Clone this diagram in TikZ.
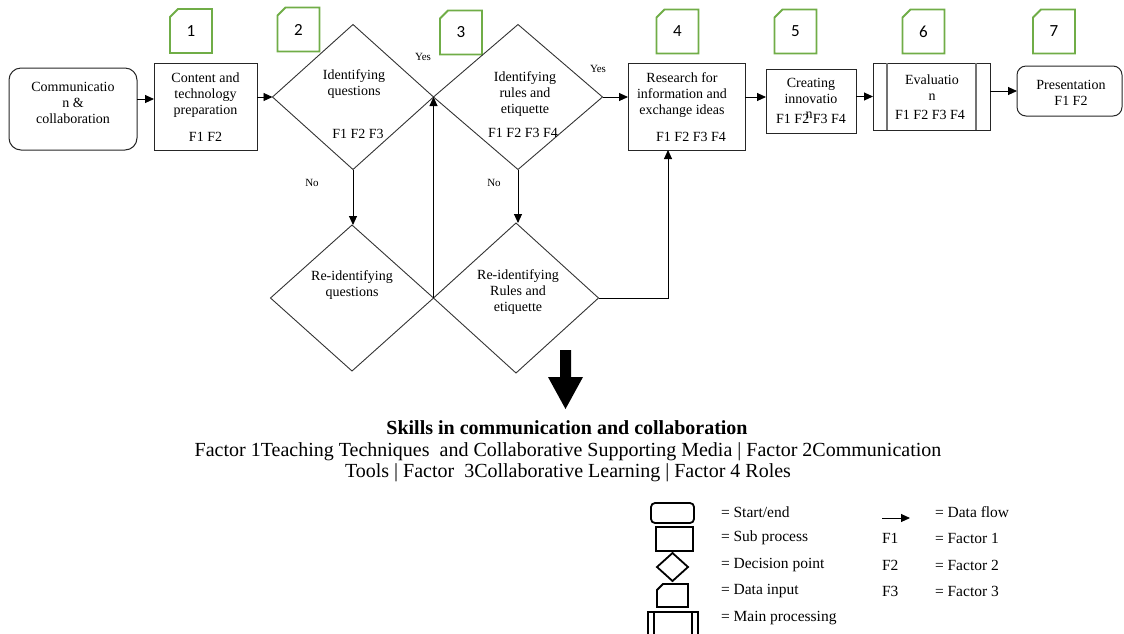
\documentclass[tikz,border=0pt]{standalone}
\usepackage{fontspec}
\setmainfont{Liberation Serif}
\newfontfamily\tagfont{Carlito}
\usetikzlibrary{arrows.meta,shapes.geometric,calc}
\definecolor{tagGreen}{RGB}{112,173,71}
\begin{document}
\begin{tikzpicture}[x=1pt,y=-1pt,
  every node/.style={inner sep=0pt,outer sep=0pt},
  shapeline/.style={draw=black!85,line width=1pt},
  decision/.style={draw=black!80,line width=0.9pt,diamond},
  innerline/.style={draw=black!55,line width=2pt},
  flow/.style={draw=black,line width=0.9pt,-{Triangle[length=9pt,width=8pt]}},
  nodetext/.style={font=\fontsize{14}{16}\selectfont,align=center},
  smalllabel/.style={font=\fontsize{11}{12}\selectfont},
  legendline/.style={draw=black,line width=1.8pt},
  legendtext/.style={font=\fontsize{15.5}{17}\selectfont,anchor=west},
  bigtext/.style={font=\fontsize{20}{21}\selectfont,align=center},
  pics/steptag/.style={code={
    \draw[tagGreen,line width=1.8pt] (-13,-22) -- (21,-22) -- (21,22) -- (-21,22) -- (-21,-14) -- cycle;
    \node[font=\tagfont\fontsize{17}{17}\selectfont] (-num) at (0,0) {#1};
  }}
]
\useasboundingbox (0,0) rectangle (1124,633);

% step tags
\pic (tag1) at (191,31) {steptag=1};
\pic (tag2) at (298.5,29.5) {steptag=2};
\pic (tag3) at (461,32.5) {steptag=3};
\pic (tag4) at (677.5,31.5) {steptag=4};
\pic (tag5) at (795.5,31.5) {steptag=5};
\pic (tag6) at (923.5,31.5) {steptag=6};
\pic (tag7) at (1054,31.5) {steptag=7};

% main shapes
\node[shapeline,rounded corners=12pt,minimum width=128pt,minimum height=82pt] (start) at (73,109) {};
\node[shapeline,minimum width=103pt,minimum height=87pt] (box1) at (205.5,106.5) {};
\node[decision,minimum width=161pt,minimum height=145pt] (d2) at (353,97) {};
\node[decision,minimum width=169pt,minimum height=145pt] (d3) at (518,97) {};
\node[decision,minimum width=163pt,minimum height=146pt] (d2b) at (352,298) {};
\node[decision,minimum width=165pt,minimum height=150pt] (d3b) at (516,298) {};
\node[shapeline,minimum width=117pt,minimum height=87pt] (box4) at (686.5,106.5) {};
\node[shapeline,minimum width=90pt,minimum height=64pt] (box5) at (811,101) {};
\node[shapeline,minimum width=117pt,minimum height=67pt] (box6) at (931.5,96.5) {};
\draw[innerline] ([xshift=14pt]box6.north west) -- ([xshift=14pt]box6.south west);
\draw[innerline] ([xshift=-14pt]box6.north east) -- ([xshift=-14pt]box6.south east);
\node[shapeline,rounded corners=9pt,minimum width=105pt,minimum height=50pt] (box7) at (1069.5,91) {};

% texts
\node[nodetext] (start-t) at (73,103) {Communicatio\\n \&\\collaboration};
\node[nodetext] (box1-t) at (205.5,95) {Content and\\technology\\preparation};
\node[nodetext] (box1-f) at (205.5,137) {F1 F2};
\node[nodetext] (d2-t) at (354,84.5) {Identifying\\questions};
\node[nodetext] (d2-f) at (358,134) {F1 F2 F3};
\node[nodetext] (d3-t) at (525,94) {Identifying\\rules and\\etiquette};
\node[nodetext] (d3-f) at (523,133) {F1 F2 F3 F4};
\node[nodetext] (d2b-t) at (352,285.5) {Re-identifying\\questions};
\node[nodetext] (d3b-t) at (518,292) {Re-identifying\\Rules and\\etiquette};
\node[nodetext] (box4-t) at (682,95) {Research for\\information and\\exchange ideas};
\node[nodetext] (box4-f) at (691,137) {F1 F2 F3 F4};
\node[nodetext] (box5-t) at (811,90.5) {Creating\\innovatio};
\node[nodetext] (box5-n) at (809,115) {n};
\node[nodetext] (box5-f) at (811,119) {F1 F2 F3 F4};
\node[nodetext] (box6-t) at (932,87.5) {Evaluatio\\n};
\node[nodetext] (box6-f) at (930,115) {F1 F2 F3 F4};
\node[nodetext] (box7-t) at (1071,93) {Presentation\\F1 F2};

\node[smalllabel] (yes1) at (423,57) {Yes};
\node[smalllabel] (yes2) at (598,69) {Yes};
\node[smalllabel] (no1) at (312,183) {No};
\node[smalllabel] (no2) at (494,183) {No};

% connectors
\draw[flow] ([yshift=10pt]start.east) -- ([yshift=7.5pt]box1.west);
\draw[flow] ([yshift=9.5pt]box1.east) -- (d2.west);
\draw[flow] (d2.south) -- (d2.south |- d2b.north);
\draw[flow] (d3.south) -- (d3.south |- d3b.north);
\draw[flow] (d2b.east) -- (d2b.east |- d2.east);
\draw[flow] (d3.east) -- (d3.east -| box4.west);
\draw[flow] (d3b.east) -| ([xshift=-18.5pt]box4.south);
\draw[flow] ([yshift=9.5pt]box4.east) coordinate (b4o) -- (b4o -| box5.west);
\draw[flow] (box6.west -| box5.east) -- (box6.west);
\draw[flow] (box7.west -| box6.east) -- (box7.west);

% big arrow
\fill[black] (560,350) -- (571,350) -- (571,377) -- (583,377) -- (565.5,409) -- (548,377) -- (560,377) -- cycle;

\node[bigtext,font=\bfseries\fontsize{20}{21}\selectfont] (skills) at (567,428) {Skills in communication and collaboration};
\node[bigtext] (factors) at (568,462.5) {Factor 1Teaching Techniques~ and Collaborative Supporting Media | Factor 2Communication\\Tools | Factor~ 3Collaborative Learning | Factor 4 Roles};

% legend
\node[legendline,rounded corners=4pt,minimum width=43pt,minimum height=20pt] (lstart) at (672.5,513) {};
\node[legendline,minimum width=37pt,minimum height=24pt] (lsub) at (674.5,539) {};
\node[legendline,diamond,minimum width=31pt,minimum height=28pt] (ldec) at (672.5,567) {};
\draw[legendline] (663,584) -- (688,584) -- (688,607) -- (657,607) -- (657,590) -- cycle;
\begin{scope}
\clip (0,0) rectangle (1124,633);
\node[legendline,minimum width=50pt,minimum height=30pt] (lmain) at (673,627) {};
\draw[legendline] ([xshift=6pt]lmain.north west) -- ([xshift=6pt]lmain.south west);
\draw[legendline] ([xshift=-6pt]lmain.north east) -- ([xshift=-6pt]lmain.south east);
\end{scope}
\coordinate (lfA) at (882,518);
\coordinate (lfB) at (910,518);
\draw[flow] (lfA) -- (lfB);

\node[legendtext] (l1) at (721,512) {= Start/end};
\node[legendtext] (l2) at (721,538) {= Sub process};
\node[legendtext] (l3) at (721,565) {= Decision point};
\node[legendtext] (l4) at (721,591) {= Data input};
\node[legendtext] (l5) at (721,618) {= Main processing};
\node[legendtext] (f1) at (882,538) {F1};
\node[legendtext] (f2) at (882,565) {F2};
\node[legendtext] (f3) at (882,591) {F3};
\node[legendtext] (r0) at (935,512) {= Data flow};
\node[legendtext] (r1) at (935,538) {= Factor 1};
\node[legendtext] (r2) at (935,565) {= Factor 2};
\node[legendtext] (r3) at (935,591) {= Factor 3};
\end{tikzpicture}
\end{document}
